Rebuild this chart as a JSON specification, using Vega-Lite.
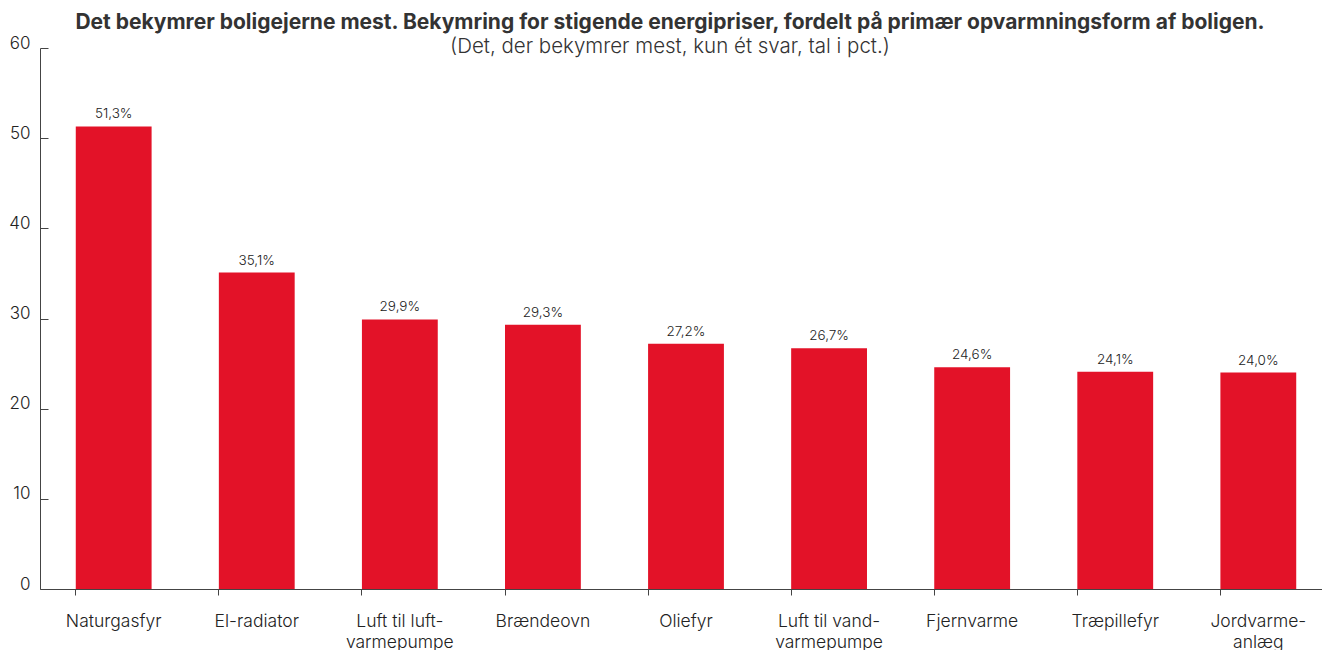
{
  "$schema": "https://vega.github.io/schema/vega-lite/v6.json",
  "autosize": {"type": "none"},
  "width": 1292,
  "height": 541,
  "padding": {"left": 40, "top": 48, "right": 0, "bottom": 61},
  "background": "white",
  "config": {"view": {"stroke": null}, "font": "Inter"},
  "title": {
    "text": "Det bekymrer boligejerne mest. Bekymring for stigende energipriser, fordelt på primær opvarmningsform af boligen.",
    "subtitle": "(Det, der bekymrer mest, kun ét svar, tal i pct.)",
    "anchor": "middle",
    "dx": -16,
    "offset": -23,
    "font": "Inter",
    "fontSize": 21,
    "fontWeight": "bold",
    "color": "#333333",
    "subtitleFont": "Inter",
    "subtitleFontSize": 20.5,
    "subtitleFontWeight": 300,
    "subtitleColor": "#333333",
    "subtitlePadding": 4
  },
  "data": {
    "values": [
      {"kategori": "Naturgasfyr", "pct": 51.3, "etiket": "51,3%"},
      {"kategori": "El-radiator", "pct": 35.1, "etiket": "35,1%"},
      {"kategori": "Luft til luft-varmepumpe", "pct": 29.9, "etiket": "29,9%"},
      {"kategori": "Brændeovn", "pct": 29.3, "etiket": "29,3%"},
      {"kategori": "Oliefyr", "pct": 27.2, "etiket": "27,2%"},
      {"kategori": "Luft til vand-varmepumpe", "pct": 26.7, "etiket": "26,7%"},
      {"kategori": "Fjernvarme", "pct": 24.6, "etiket": "24,6%"},
      {"kategori": "Træpillefyr", "pct": 24.1, "etiket": "24,1%"},
      {"kategori": "Jordvarmeanlæg", "pct": 24.0, "etiket": "24,0%"}
    ]
  },
  "encoding": {
    "x": {
      "field": "kategori",
      "type": "nominal",
      "sort": null,
      "scale": {"paddingInner": 0.47, "paddingOuter": 0.25},
      "axis": {
        "title": null,
        "labelAngle": 0,
        "bandPosition": 0,
        "tickSize": 6,
        "tickColor": "#444444",
        "domainColor": "#444444",
        "labelFont": "Inter",
        "labelFontSize": 17.5,
        "labelColor": "#222222",
        "labelPadding": 17,
        "labelLineHeight": 21,
        "labelFontWeight": 300,
        "labelExpr": "datum.value == 'Luft til luft-varmepumpe' ? ['Luft til luft-', 'varmepumpe'] : datum.value == 'Luft til vand-varmepumpe' ? ['Luft til vand-', 'varmepumpe'] : datum.value == 'Jordvarmeanlæg' ? ['Jordvarme-', 'anlæg'] : datum.value"
      }
    },
    "y": {
      "field": "pct",
      "type": "quantitative",
      "scale": {"domain": [0, 60], "nice": false},
      "axis": {
        "title": null,
        "values": [0, 10, 20, 30, 40, 50, 60],
        "grid": false,
        "tickSize": -8,
        "tickColor": "#444444",
        "domainColor": "#444444",
        "labelFont": "Inter",
        "labelFontSize": 17,
        "labelColor": "#222222",
        "labelFontWeight": 300,
        "labelPadding": 18,
        "labelOffset": -5
      }
    }
  },
  "layer": [
    {"mark": {"type": "bar", "color": "#E31228"}},
    {
      "mark": {"type": "text", "baseline": "bottom", "dy": -5, "fontSize": 13.5, "font": "Inter", "fontWeight": 300, "color": "#222222"},
      "encoding": {
        "text": {"field": "etiket", "type": "nominal"}
      }
    }
  ]
}
